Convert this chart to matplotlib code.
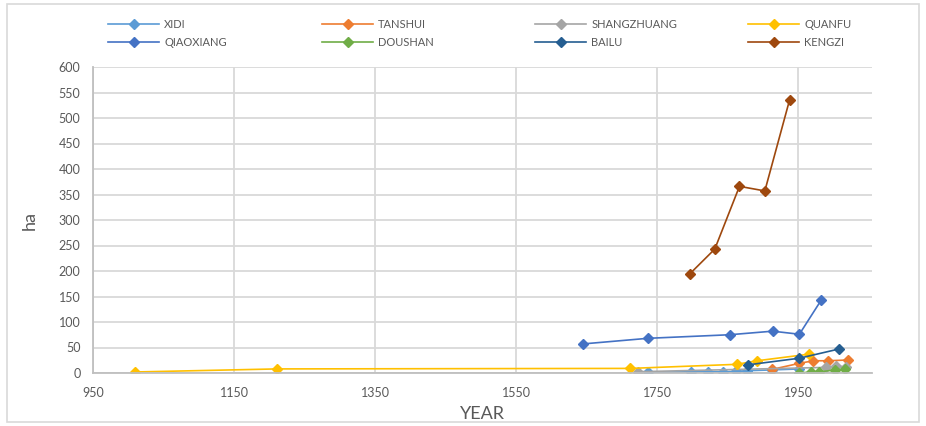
import matplotlib.pyplot as plt
from matplotlib.patches import Rectangle

plt.rcParams['font.family'] = ['Lato', 'DejaVu Sans']

# series data (year, area in ha)
xidi_years = [1737, 1798, 1822, 1843, 1862, 1877, 1913, 1952]
xidi_ha = [1, 2.5, 2.5, 2.5, 3, 4.5, 6, 8]

tanshui_years = [1913, 1952, 1972, 1992, 2021]
tanshui_ha = [7, 19, 24, 24, 25.5]

shangzhuang_years = [1723, 1990, 2004, 2018]
shangzhuang_ha = [2.5, 11, 13.5, 12]

quanfu_years = [1010, 1211, 1712, 1863, 1892, 1966]
quanfu_ha = [2, 8, 9, 17, 24, 37]

qiaoxiang_years = [1645, 1737, 1853, 1914, 1952, 1983]
qiaoxiang_ha = [57, 68, 75, 82, 76, 143]

doushan_years = [1952, 1968, 1980, 2002, 2016]
doushan_ha = [0.6, 1.3, 2, 6, 7]

bailu_years = [1879, 1952, 2008]
bailu_ha = [16, 29, 47]

kengzi_years = [1797, 1832, 1867, 1903, 1938]
kengzi_ha = [195, 243, 366, 357, 535]

series = [
    ("XIDI", xidi_years, xidi_ha, "#5B9BD5"),
    ("TANSHUI", tanshui_years, tanshui_ha, "#ED7D31"),
    ("SHANGZHUANG", shangzhuang_years, shangzhuang_ha, "#A5A5A5"),
    ("QUANFU", quanfu_years, quanfu_ha, "#FFC000"),
    ("QIAOXIANG", qiaoxiang_years, qiaoxiang_ha, "#4472C4"),
    ("DOUSHAN", doushan_years, doushan_ha, "#70AD47"),
    ("BAILU", bailu_years, bailu_ha, "#255E91"),
    ("KENGZI", kengzi_years, kengzi_ha, "#9E480E"),
]

fig = plt.figure(figsize=(9.26, 4.26), dpi=100)
ax = fig.add_axes([93 / 926, 1 - 373 / 426, (872 - 93) / 926, (373 - 67) / 426])

# outer chart border
fig.patches.append(Rectangle((7 / 926, 4 / 426), 912 / 926, 418 / 426,
                             transform=fig.transFigure, fill=False,
                             edgecolor="#D9D9D9", linewidth=1.2))

handles = {}
for name, xs, ys, color in series:
    h, = ax.plot(xs, ys, color=color, marker="D", markersize=5.5,
                 linewidth=1.2, label=name)
    handles[name] = h

ax.set_xlim(950, 2055)
ax.set_ylim(0, 600)
ax.set_xticks(range(950, 2000, 200))
ax.set_yticks(range(0, 601, 50))
ax.grid(True, color="#D9D9D9", linewidth=1.3)
ax.set_axisbelow(True)
for side in ["top", "right"]:
    ax.spines[side].set_visible(False)
for side in ["left", "bottom"]:
    ax.spines[side].set_color("#BFBFBF")
    ax.spines[side].set_linewidth(1.3)
ax.tick_params(length=0, labelsize=9, colors="#595959")
ax.tick_params(axis="x", pad=10)
ax.tick_params(axis="y", pad=9)

ax.set_xlabel("YEAR", fontsize=13, color="#595959", labelpad=5)
ax.set_ylabel("ha", fontsize=13, color="#595959", labelpad=15)

# legend: four columns of two rows, spaced evenly like the original
columns = [("XIDI", "QIAOXIANG"), ("TANSHUI", "DOUSHAN"),
           ("SHANGZHUANG", "BAILU"), ("QUANFU", "KENGZI")]
col_x = [108, 322, 535, 748]
for names, x0 in zip(columns, col_x):
    leg = fig.legend([handles[n] for n in names], names, frameon=False,
                     loc="upper left", bbox_to_anchor=(x0 / 926, 1 - 19 / 426),
                     fontsize=8, labelcolor="#595959", handlelength=4.6,
                     handletextpad=0.45, labelspacing=0.65,
                     borderpad=0, borderaxespad=0)

plt.savefig("out.png", dpi=100)
